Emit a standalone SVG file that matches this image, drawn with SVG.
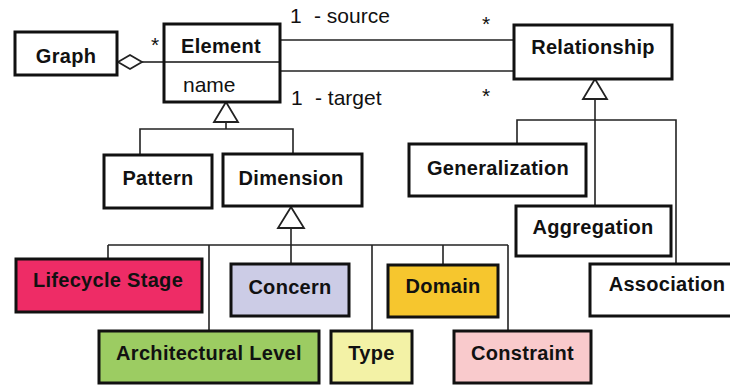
<svg xmlns="http://www.w3.org/2000/svg" width="730" height="385" viewBox="0 0 730 385">
<style>
.box{stroke:#111;stroke-width:3;fill:#fff}
.lbl{font-family:"Liberation Sans",Arial,sans-serif;font-weight:bold;font-size:20px;letter-spacing:0.3px;fill:#111;text-anchor:middle}
.reg{font-family:"Liberation Sans",Arial,sans-serif;font-size:21px;fill:#111}
.ln{stroke:#222;stroke-width:1.6;fill:none}
.tri{stroke:#222;stroke-width:1.8;fill:#fff}
</style>
<rect width="730" height="385" fill="#fff"/>
<g id="connectors">
<line class="ln" x1="142" y1="62" x2="164" y2="62"/>
<polygon class="tri" points="118,62 130,55 142,62 130,69"/>
<line class="ln" x1="280" y1="40" x2="514" y2="40"/>
<line class="ln" x1="280" y1="71" x2="514" y2="71"/>
<polyline class="ln" points="226,122 226,129"/>
<polyline class="ln" points="140,155 140,129 293,129 293,154"/>
<polygon class="tri" points="226,102 214,122 238,122"/>
<line class="ln" x1="291" y1="228" x2="291" y2="264"/>
<line class="ln" x1="108" y1="245" x2="508" y2="245"/>
<line class="ln" x1="108" y1="245" x2="108" y2="259"/>
<line class="ln" x1="209" y1="245" x2="209" y2="331"/>
<line class="ln" x1="372" y1="245" x2="372" y2="331"/>
<line class="ln" x1="443" y1="245" x2="443" y2="265"/>
<line class="ln" x1="508" y1="245" x2="508" y2="331"/>
<polygon class="tri" points="291,207 278,228 304,228"/>
<line class="ln" x1="595" y1="99" x2="595" y2="206"/>
<polyline class="ln" points="517,144 517,120 676,120 676,264"/>
<polygon class="tri" points="595,79 583,99 607,99"/>
<text class="reg" x="290" y="23">1<tspan x="314">- source</tspan></text>
<text class="reg" x="291" y="105">1<tspan x="315">- target</tspan></text>
<text class="reg" x="151" y="52" font-size="18">*</text>
<text class="reg" x="482" y="31" font-size="18">*</text>
<text class="reg" x="482" y="103" font-size="18">*</text>
</g>
<g id="graph"><rect class="box" x="15" y="32" width="102" height="43"/><text class="lbl" x="66" y="63">Graph</text></g>
<g id="element"><rect class="box" x="164" y="24" width="116" height="78"/><line x1="164" y1="62" x2="280" y2="62" stroke="#111" stroke-width="1.6"/><text class="lbl" x="221" y="53">Element</text><text class="reg" x="183" y="92">name</text></g>
<g id="relationship"><rect class="box" x="514" y="25" width="158" height="54"/><text class="lbl" x="593" y="54">Relationship</text></g>
<g id="pattern"><rect class="box" x="104" y="155" width="108" height="53"/><text class="lbl" x="158" y="185">Pattern</text></g>
<g id="dimension"><rect class="box" x="223" y="154" width="139" height="52"/><text class="lbl" x="291" y="185">Dimension</text></g>
<g id="generalization"><rect class="box" x="409" y="144" width="177" height="52"/><text class="lbl" x="498" y="175">Generalization</text></g>
<g id="aggregation"><rect class="box" x="516" y="206" width="155" height="50"/><text class="lbl" x="593" y="234">Aggregation</text></g>
<g id="association"><rect class="box" x="590" y="264" width="150" height="52"/><text class="lbl" x="667" y="291">Association</text></g>
<g id="lifecycle"><rect class="box" x="16" y="259" width="186" height="53" style="fill:#EE2C66"/><text class="lbl" x="108" y="287">Lifecycle Stage</text></g>
<g id="concern"><rect class="box" x="231" y="264" width="118" height="52" style="fill:#CCCCE6"/><text class="lbl" x="290" y="294">Concern</text></g>
<g id="domain"><rect class="box" x="388" y="265" width="110" height="52" style="fill:#F6C62E"/><text class="lbl" x="443" y="293">Domain</text></g>
<g id="architectural"><rect class="box" x="99" y="331" width="220" height="52" style="fill:#9CCC62"/><text class="lbl" x="209" y="360">Architectural Level</text></g>
<g id="type"><rect class="box" x="331" y="331" width="81" height="52" style="fill:#F3F2A6"/><text class="lbl" x="371.5" y="360">Type</text></g>
<g id="constraint"><rect class="box" x="454" y="331" width="137" height="52" style="fill:#F9CACC"/><text class="lbl" x="522.5" y="360">Constraint</text></g>
</svg>
